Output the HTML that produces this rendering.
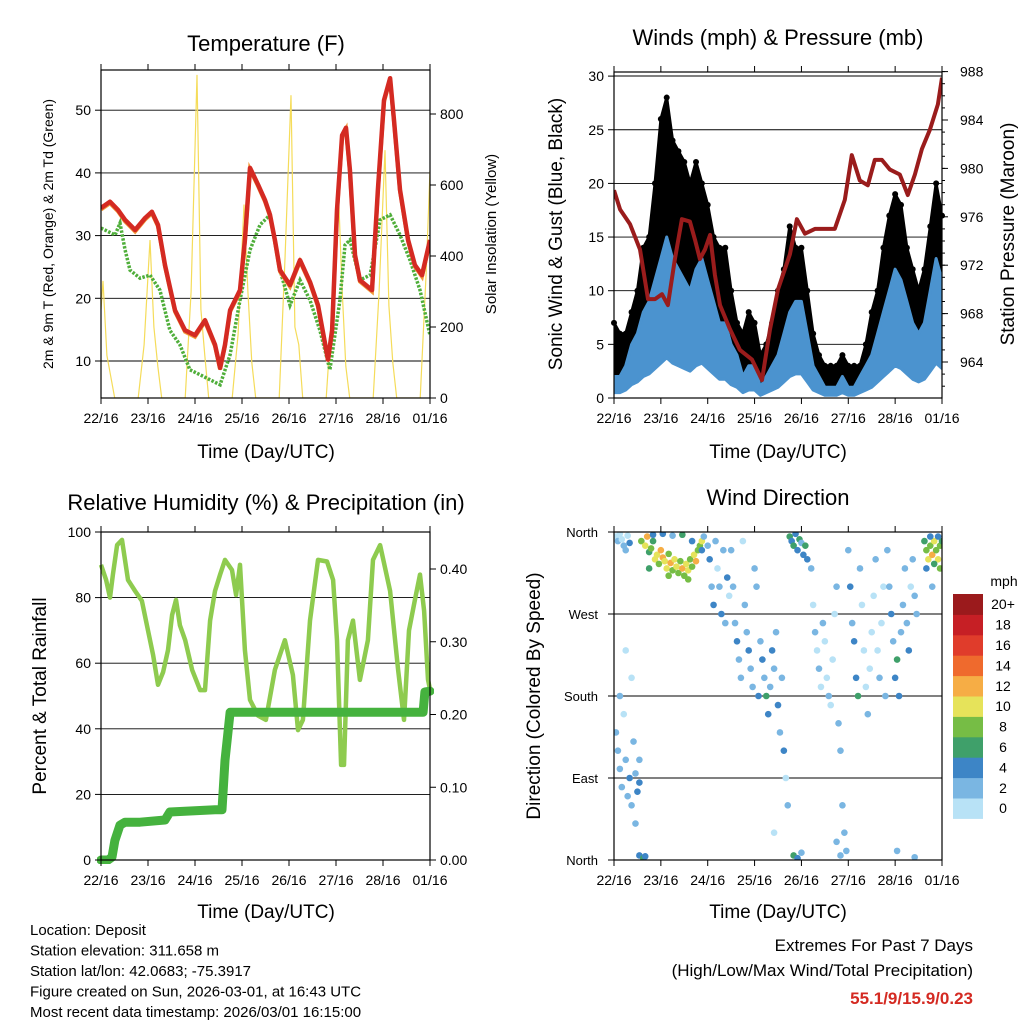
<!DOCTYPE html>
<html><head><meta charset="utf-8">
<style>
body{margin:0;background:#fff;}
svg{display:block;font-family:"Liberation Sans",Arial,sans-serif;}
</style></head>
<body>
<svg id="c" width="1024" height="1024" viewBox="0 0 1024 1024" xmlns="http://www.w3.org/2000/svg"></svg>
<script>
// ---------- DATA ----------
const dayLabels = ["22/16","23/16","24/16","25/16","26/16","27/16","28/16","01/16"];
// Temperature (hours since start, deg F)
const tempHours = [0,4.6,8.7,12.3,17.4,22.5,26,29.1,32.7,37.8,42.9,48,53.1,58.2,60.8,63.3,65.9,71,73.5,76.1,80.2,83.7,86.3,88.8,91.4,96.5,101.6,106.7,110.8,115.9,118,120.5,123.1,125.1,127.1,129.7,132.2,138.4,141.4,144.5,147.6,149.6,152.7,156.8,160.3,163.9,168];
const tempF = [34.4,35.4,34.1,32.5,30.9,32.8,33.8,31.7,25.3,18.1,14.9,14.1,16.5,12.6,8.9,12.6,18.1,21.3,29.3,40.8,38.1,35.7,33.3,29.3,24.5,22.1,26.1,22.6,18.9,10.2,14.9,34.1,46,47.2,40.5,26.9,22.9,21.3,37.3,51.6,55.1,48.4,37.3,29.3,25.3,23.7,29.3];
const dewHours = [0,7.2,9.7,12.3,14.8,19.9,25,30.1,35.2,40.3,45.4,50.6,55.7,60.8,65.9,71,76.1,81.2,86.3,91.4,96.5,101.6,106.7,111.8,116.9,122,124.6,127.1,132.2,137.4,142.5,147.6,152.7,157.8,162.9,168];
const dewF = [31.2,30.1,32,27.7,24.5,23.2,23.7,21.3,14.9,12.6,8.6,7.8,7,6.2,11,19.7,27.7,31.7,33.3,24.5,18.9,22.9,19.7,14.9,8.6,19.7,28.5,29.3,22.9,23.7,32.5,33.3,30.1,26.1,21.3,14.1];
const solarHours = [0,1,3,5,7,19,22,25,27,29,31,43,46,49,51,53,55,67,70,73,75,77,79,91,94,97,99,101,103,115,118,121,123,125,127,139,142,145,147,149,151,163,166,168];
const solarW = [250,330,120,60,0,0,150,445,200,90,0,0,300,910,250,120,0,0,180,545,300,100,0,0,400,853,200,150,0,0,250,614,320,90,0,0,300,698,260,100,0,0,350,640];
// Winds
const windHours = [0,3,6,9,12,15,18,21,24,27,30,33,36,39,42,45,48,51,54,57,60,63,66,69,72,75,78,81,84,87,90,93,96,99,102,105,108,111,114,117,120,123,126,129,132,135,138,141,144,147,150,153,156,159,162,165,168];
const gustMph = [7,6,6,8,10,14,15,20,26,28,24,23,22,20,22,20,18,15,14,14,10,7,6,8,7,4,5,7,10,12,16,14,14,10,6,4,3,3,3,4,3,3,3,5,8,10,14,17,19,18,14,12,10,12,16,20,17];
const windMph = [2,2,3,5,6,8,9,11,13,15,13,12,11,10,12,13,11,9,7,7,5,4,2,3,3,1,2,3,4,6,8,9,9,6,3,2,1,1,1,2,1,1,2,3,4,6,8,10,12,11,9,7,6,7,10,13,11];
const presHours = [0,3.1,8.2,13.3,17.4,21,24.6,27.6,31.2,34.8,38.9,41.5,44,46.6,49.2,51.7,54.3,59.4,64.5,70.7,75.8,79.9,84,90.1,93.7,97.8,102.9,108,113.1,118.2,121.8,125.9,130,133.6,137.2,141.3,146.4,150.5,154.1,157.7,161.8,165.9,168];
const presMb = [978.2,976.6,975.4,973.3,969.2,969.2,969.6,968.7,972.5,975.8,975.6,974.1,972.5,973.3,974.5,971.2,968.7,966.7,965,964.2,962.5,966.7,970,972.9,975.8,974.6,975,975,975,977.4,981.1,979,978.6,980.7,980.7,979.9,979.5,977.8,979.5,981.6,983.2,985.3,987.5];
// RH & precip
const rhHours = [0,2.6,4.6,6.1,8.2,10.7,13.8,17.4,20.9,24,26.6,29.1,31.7,34.2,36.3,38.3,40.3,43,46.5,50.6,53.1,55.7,58.2,60.8,63.3,66.9,69,71,73.5,76.1,80.2,84.2,88.8,93.9,98,100.6,103.1,106.7,110.8,115.4,118.5,120.5,122.6,124.1,126.1,128.7,132.2,136.3,138.9,142.5,147.6,151.7,154.7,157.3,160.3,162.9,165,167,168];
const rhPct = [90,85.4,80,87,96,97.6,85.4,82,79,70,62.5,53.4,57.3,64,74.7,79.3,71.6,67,58,51.8,51.8,73,82,87,91.5,88.4,80.8,90,64,48.8,44,42.7,58,67,56.4,39.6,42.7,73,91.5,91,85.4,67,29,29,67,73,54.9,67,91.5,96,82,58,42.7,70,79.3,87,76,55,52];
const precipHours = [0,3.6,5.6,7.1,9.7,12.3,19.9,32.7,35.2,58.2,61.8,63.3,65.9,68.4,96.5,119.5,164.5,165.4,168];
const precipIn = [0,0,0.004,0.027,0.048,0.052,0.052,0.055,0.066,0.069,0.069,0.137,0.203,0.203,0.203,0.203,0.203,0.231,0.232];
// Wind direction points [hours, degrees, mph]
const wdHours = [1,2,3,4,5,6,7,8,1,2,3,4,5,6,7,8,9,10,11,12,13,11,9,6,3,13,13,15,16,14,16,17,18,19,20,21,22,23,24,25,26,27,28,29,30,31,32,33,34,35,36,37,38,39,40,41,42,43,44,45,20,25,30,35,40,45,18,28,38,46,48,49,50,51,52,53,54,55,56,57,58,59,60,61,62,63,64,65,66,67,68,69,70,71,72,73,74,75,76,77,78,79,80,81,82,83,84,85,86,87,88,89,82,90,91,92,93,94,95,96,97,98,99,92,94,96,101,102,103,104,105,106,107,108,109,110,111,112,113,114,115,116,117,118,119,120,121,122,123,124,125,126,127,128,129,130,131,132,133,134,135,136,137,138,139,114,116,140,141,142,143,144,145,146,147,148,149,150,151,152,153,154,155,145,154,159,160,161,162,163,164,165,166,167,168,162,164,166,160,163,167];
const wdDeg = [355,350,358,352,345,340,356,348,140,120,100,80,160,110,70,90,60,130,95,75,85,40,200,230,180,110,5,2,4,350,345,355,338,342,350,330,335,325,340,332,328,320,336,326,318,330,322,315,328,320,312,325,318,330,322,335,328,340,345,350,357,358,356,357,350,340,320,312,308,355,345,330,300,280,350,320,300,270,340,260,310,290,340,300,260,240,220,200,350,280,250,230,210,190,320,300,180,240,220,200,180,160,190,230,210,250,170,140,200,120,90,60,30,355,350,345,358,340,352,348,335,345,330,5,2,8,320,280,250,230,210,190,260,240,200,180,170,220,270,300,150,120,60,30,10,340,300,260,240,200,180,320,280,230,190,160,210,250,290,330,230,200,260,300,180,20,5,340,300,270,240,200,220,180,250,280,320,260,230,300,330,290,270,10,3,350,340,330,345,335,350,340,330,345,350,355,325,355,320,300,320];
const wdMph = [1,2,0,1,3,2,1,4,2,2,3,2,1,3,2,4,2,3,3,4,5,2,1,1,2,2,5,7,4,8,10,12,6,9,7,11,10,9,13,12,11,10,8,12,9,11,10,8,9,12,8,10,11,9,8,10,12,9,8,10,5,4,3,6,5,4,7,8,9,3,2,4,3,4,2,1,3,4,2,3,4,1,2,3,2,4,3,2,1,3,2,4,3,2,3,2,4,3,4,3,6,4,3,4,3,2,5,3,2,4,1,2,1,6,5,6,4,5,6,3,4,6,4,6,4,3,2,1,2,1,2,1,2,0,1,2,1,0,1,2,3,2,3,2,3,2,4,3,5,4,6,3,1,0,1,2,1,0,1,2,1,2,0,1,2,2,3,2,3,4,3,5,6,4,3,2,3,2,4,1,2,3,2,2,3,6,8,10,9,12,11,8,10,9,7,5,6,4,5,3,8];
const speedColors = ["#b8e2f6","#7ab6e2","#3d85c6","#3fa06a","#76bd45","#e6e35a","#f6ad45","#ef6a2d","#e03c2b","#c61f25","#9b1a1c"];
const speedLabels = ["0","2","4","6","8","10","12","14","16","18","20+"];

// ---------- HELPERS ----------
const NS="http://www.w3.org/2000/svg";
const svg=document.getElementById('c');
function mk(tag,attrs,parent){const e=document.createElementNS(NS,tag);for(const k in attrs)e.setAttribute(k,attrs[k]);(parent||svg).appendChild(e);return e;}
function txt(s,x,y,size,anchor,parent,rot,extra){const e=mk('text',{x:x,y:y,'font-size':size,'text-anchor':anchor||'middle',fill:'#000'},parent);if(rot)e.setAttribute('transform','rotate('+rot+' '+x+' '+y+')');if(extra)for(const k in extra)e.setAttribute(k,extra[k]);e.textContent=s;return e;}
function pathFrom(xs,ys){return xs.map((x,i)=>(i?'L':'M')+x.toFixed(1)+' '+ys[i].toFixed(1)).join(' ');}

function frame(L,T,R,B,name){
  const g=mk('g',{});
  
  
  return g;
}
function box(g,L,T,R,B){mk('rect',{x:L,y:T,width:R-L,height:B-T,fill:'none',stroke:'#000','stroke-width':1.2},g);}
function xAxis(g,L,R,T,B,name){
  const xa=mk('g',{},g);
  
  
  dayLabels.forEach((d,i)=>{const x=L+i*(R-L)/7;
    mk('line',{x1:x,y1:B,x2:x,y2:B+6,stroke:'#000'},xa);
    mk('line',{x1:x,y1:T,x2:x,y2:T-6,stroke:'#000'},xa);
    const t=txt(d,x,B+25,14,'middle',xa);
    
    
  });
}
function grid(g,L,R,ys){ys.forEach(y=>mk('line',{x1:L,y1:y,x2:R,y2:y,stroke:'#000','stroke-width':0.9},g));}

// ---------- PANEL 1: Temperature ----------
(function(){
  const L=101,R=430,T=70,B=398;
  const g=frame(L,T,R,B,'temperature-panel');
  const x=h=>L+h*(R-L)/168, yT=v=>361-(v-10)*6.27, yS=w=>398-w*71/200;
  const clip=mk('clipPath',{id:'c1'},g);mk('rect',{x:L,y:T,width:R-L,height:B-T},clip);
  const leftTicks=[10,20,30,40,50], rightTicks=[0,200,400,600,800];
  grid(g,L,R,leftTicks.map(yT));
  const sol=mk('path',{d:pathFrom(solarHours.map(x),solarW.map(yS)),fill:'none',stroke:'#f5dc5a','stroke-width':1.2,'clip-path':'url(#c1)'},g);
  
  const dew=mk('path',{d:pathFrom(dewHours.map(x),dewF.map(yT)),fill:'none',stroke:'#4fae3a','stroke-width':3.5,'stroke-dasharray':'2.5 1.5','clip-path':'url(#c1)'},g);
  
  const o=mk('path',{d:pathFrom(tempHours.map(x),tempF.map(v=>yT(v)+1.5)),fill:'none',stroke:'#f29a3a','stroke-width':4,'clip-path':'url(#c1)'},g);
  
  const r=mk('path',{d:pathFrom(tempHours.map(x),tempF.map(yT)),fill:'none',stroke:'#d42a22','stroke-width':4.5,'clip-path':'url(#c1)','stroke-linejoin':'round'},g);
  
  box(g,L,T,R,B);
  leftTicks.forEach(v=>{mk('line',{x1:L-6,y1:yT(v),x2:L,y2:yT(v),stroke:'#000'},g);txt(String(v),L-10,yT(v)+5,14,'end',g);});
  rightTicks.forEach(v=>{mk('line',{x1:R,y1:yS(v),x2:R+6,y2:yS(v),stroke:'#000'},g);txt(String(v),R+10,yS(v)+5,14,'start',g);});
  xAxis(g,L,R,T,B,'temperature-x-axis');
  const t=txt('Temperature (F)',266,51,22,'middle',g);
  const a=txt('2m & 9m T (Red, Orange) & 2m Td (Green)',53,234,14,'middle',g,-90);
  const b=txt('Solar Insolation (Yellow)',496,234,15,'middle',g,-90);
  const c=txt('Time (Day/UTC)',266,458,19,'middle',g);
})();

// ---------- PANEL 2: Winds ----------
(function(){
  const L=614,R=942,T=72,B=398;
  const g=frame(L,T,R,B,'winds-panel');
  const x=h=>L+h*(R-L)/168, yW=v=>398-v*10.73, yP=p=>362-(p-964)*12.1;
  const clip=mk('clipPath',{id:'c2'},g);mk('rect',{x:L,y:T,width:R-L,height:B-T},clip);
  const wt=[0,5,10,15,20,25,30];
  grid(g,L,R,wt.slice(1).map(yW));
  const gx=windHours.map(x);
  const gTop=gustMph.map(yW), gBot=windMph.map(v=>yW(v*0.6)).reverse();
  const gp=mk('path',{d:pathFrom(gx,gTop)+' '+pathFrom(gx.slice().reverse(),gBot).replace('M','L')+'Z',fill:'#000',stroke:'#000','stroke-width':3,'stroke-linejoin':'round','clip-path':'url(#c2)'},g);
  
  windHours.forEach((h,i)=>{const d=mk('circle',{cx:x(h),cy:yW(gustMph[i]),r:3,fill:'#000'},g);
    });
  const wTop=windMph.map(yW), wBot=windMph.map(v=>yW(v*0.25)).reverse();
  const wp=mk('path',{d:pathFrom(gx,wTop)+' '+pathFrom(gx.slice().reverse(),wBot).replace('M','L')+'Z',fill:'#4b93cf',stroke:'#4b93cf','stroke-width':3,'stroke-linejoin':'round','clip-path':'url(#c2)'},g);
  
  const pp=mk('path',{d:pathFrom(presHours.map(x),presMb.map(yP)),fill:'none',stroke:'#9a1c1c','stroke-width':4,'stroke-linejoin':'round','clip-path':'url(#c2)'},g);
  
  box(g,L,T,R,B);
  mk('line',{x1:L,y1:76,x2:R,y2:76,stroke:'#000'},g);
  wt.forEach(v=>{mk('line',{x1:L-6,y1:yW(v),x2:L,y2:yW(v),stroke:'#000'},g);txt(String(v),L-10,yW(v)+5,14,'end',g);});
  [964,968,972,976,980,984,988].forEach(p=>{mk('line',{x1:R,y1:yP(p),x2:R+6,y2:yP(p),stroke:'#000'},g);txt(String(p),R+18,yP(p)+5,14,'start',g);});
  for(let p=962;p<=988;p++)mk('line',{x1:R,y1:yP(p),x2:R+3,y2:yP(p),stroke:'#000'},g);
  xAxis(g,L,R,T,B,'winds-x-axis');
  const t=txt('Winds (mph) & Pressure (mb)',778,45,22,'middle',g);
  const a=txt('Sonic Wind & Gust (Blue, Black)',562,234,19,'middle',g,-90);
  const b=txt('Station Pressure (Maroon)',1014,234,19,'middle',g,-90);
  const c=txt('Time (Day/UTC)',778,458,19,'middle',g);
})();

// ---------- PANEL 3: RH & Precip ----------
(function(){
  const L=101,R=430,T=532,B=860;
  const g=frame(L,T,R,B,'humidity-panel');
  const x=h=>L+h*(R-L)/168, yR=v=>860-v*3.28, yP=i=>860-i*727.5;
  const clip=mk('clipPath',{id:'c3'},g);mk('rect',{x:L-4,y:T,width:R-L+8,height:B-T+4},clip);
  const lt=[0,20,40,60,80,100];
  grid(g,L,R,[20,40,60,80].map(yR));
  const rh=mk('path',{d:pathFrom(rhHours.map(x),rhPct.map(yR)),fill:'none',stroke:'#8ecb4f','stroke-width':4.5,'stroke-linejoin':'round','clip-path':'url(#c3)'},g);
  
  let d='';precipHours.forEach((h,i)=>{d+=(i?'L':'M')+x(h).toFixed(1)+' '+yP(precipIn[i]).toFixed(1)+' ';});
  const pr=mk('path',{d:d,fill:'none',stroke:'#45b23e','stroke-width':9,'stroke-linejoin':'round','stroke-linecap':'round','clip-path':'url(#c3)'},g);
  
  box(g,L,T,R,B);
  lt.forEach(v=>{mk('line',{x1:L-6,y1:yR(v),x2:L,y2:yR(v),stroke:'#000'},g);txt(String(v),L-10,yR(v)+5,14,'end',g);});
  [0,0.1,0.2,0.3,0.4].forEach(v=>{mk('line',{x1:R,y1:yP(v),x2:R+6,y2:yP(v),stroke:'#000'},g);txt(v.toFixed(2),R+10,yP(v)+5,14,'start',g);});
  xAxis(g,L,R,T,B,'humidity-x-axis');
  const t=txt('Relative Humidity (%) & Precipitation (in)',266,510,22,'middle',g);
  const a=txt('Percent & Total Rainfall',46,696,19,'middle',g,-90);
  const c=txt('Time (Day/UTC)',266,918,19,'middle',g);
})();

// ---------- PANEL 4: Wind Direction ----------
(function(){
  const L=614,R=942,T=532,B=860;
  const g=frame(L,T,R,B,'wind-direction-panel');
  const x=h=>L+h*(R-L)/168, yD=d=>860-d*328/360;
  const clip=mk('clipPath',{id:'c4'},g);mk('rect',{x:L,y:T,width:R-L,height:B-T},clip);
  grid(g,L,R,[270,180,90].map(yD));
  wdHours.forEach((h,i)=>{const s=wdMph[i];const ci=Math.min(10,Math.floor(s/2));
    const c=mk('circle',{cx:x(h),cy:yD(wdDeg[i]),r:3.3,fill:speedColors[ci],'clip-path':'url(#c4)'},g);
    });
  box(g,L,T,R,B);
  [['North',360],['West',270],['South',180],['East',90],['North',0]].forEach(([s,d])=>{
    mk('line',{x1:L-6,y1:yD(d),x2:L,y2:yD(d),stroke:'#000'},g);txt(s,L-16,yD(d)+5,13,'end',g);});
  xAxis(g,L,R,T,B,'wind-direction-x-axis');
  const t=txt('Wind Direction',778,505,22,'middle',g);
  const a=txt('Direction (Colored By Speed)',540,696,19,'middle',g,-90);
  const c=txt('Time (Day/UTC)',778,918,19,'middle',g);
  // colorbar
  const cb=mk('g',{},g);
  
  const h=20.4;
  speedColors.forEach((col,i)=>{const y=594+(10-i)*h;
    mk('rect',{x:953,y:y,width:30,height:h+0.5,fill:col},cb);
    txt(speedLabels[i],1003,y+h/2+5,14,'middle',cb);});
  txt('mph',1004,586,14,'middle',cb);
})();

// ---------- FOOTER ----------
(function(){
  const g=mk('g',{});
  
  ['Location: Deposit','Station elevation: 311.658 m','Station lat/lon: 42.0683; -75.3917','Figure created on Sun, 2026-03-01, at 16:43 UTC','Most recent data timestamp: 2026/03/01 16:15:00'].forEach((s,i)=>txt(s,30,935+i*20.5,15,'start',g));
  const e=mk('g',{});
  
  txt('Extremes For Past 7 Days',973,951,17,'end',e);
  txt('(High/Low/Max Wind/Total Precipitation)',973,976,17,'end',e);
  txt('55.1/9/15.9/0.23',973,1004,17,'end',e,null,{fill:'#d42a22','font-weight':'bold'});
})();
</script>
</body></html>
